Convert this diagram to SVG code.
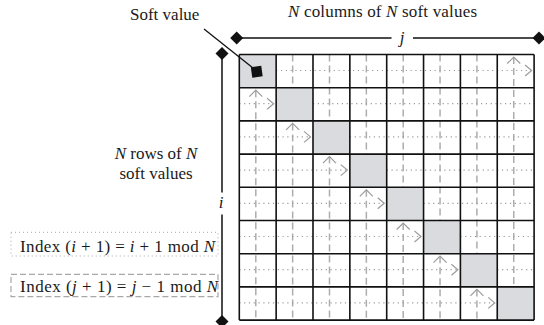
<svg xmlns="http://www.w3.org/2000/svg" width="544" height="325" viewBox="0 0 544 325">
<style>
text{font-family:"Liberation Serif","Times New Roman",serif;font-size:17px;fill:#1a1a1a}
.it{font-style:italic}
.grid{stroke:#111;stroke-width:1.6;fill:none}
.diag{fill:#d9dbde;stroke:none}
.dot{stroke:#9c9c9c;stroke-width:1.2;stroke-dasharray:1.2 3.6;fill:none}
.dash{stroke:#adadad;stroke-width:1.5;stroke-dasharray:7 4;fill:none}
.ah{stroke:#9c9c9c;stroke-width:1.2;fill:none}
.axis{stroke:#111;stroke-width:1.5;fill:none}
.dia{fill:#111}
</style>
<defs>
<path id="dm" d="M0,-6.5 L6.5,0 L0,6.5 L-6.5,0 Z"/>
</defs>
<g id="title"><text x="288" y="17" textLength="189" lengthAdjust="spacing"><tspan class="it">N</tspan> columns of <tspan class="it">N</tspan> soft values</text></g>
<g id="soft-value-label"><text x="130" y="20">Soft value</text></g>
<g id="rows-label"><text x="156" y="158.5" text-anchor="middle"><tspan class="it">N</tspan> rows of <tspan class="it">N</tspan></text><text x="156" y="179" text-anchor="middle">soft values</text></g>
<g id="diagonal">
<rect class="diag" x="239.3" y="54.5" width="36.85" height="33.2"/>
<rect class="diag" x="276.15" y="87.7" width="36.85" height="33.2"/>
<rect class="diag" x="313" y="120.9" width="36.85" height="33.2"/>
<rect class="diag" x="349.85" y="154.1" width="36.85" height="33.2"/>
<rect class="diag" x="386.7" y="187.3" width="36.85" height="33.2"/>
<rect class="diag" x="423.55" y="220.5" width="36.85" height="33.2"/>
<rect class="diag" x="460.4" y="253.7" width="36.85" height="33.2"/>
<rect class="diag" x="497.25" y="286.9" width="36.85" height="33.2"/>
</g>
<g id="connectors">
<!-- vertical dashed (index j) -->
<path class="dash" d="M255.8,90.2 V320.1"/>
<path class="dash" d="M292.65,54.5 V87.7 M292.65,123.4 V320.1"/>
<path class="dash" d="M329.5,54.5 V120.9 M329.5,156.6 V320.1"/>
<path class="dash" d="M366.35,54.5 V154.1 M366.35,189.8 V320.1"/>
<path class="dash" d="M403.2,54.5 V187.3 M403.2,223 V320.1"/>
<path class="dash" d="M440.05,54.5 V220.5 M440.05,256.2 V320.1"/>
<path class="dash" d="M476.9,54.5 V253.7 M476.9,289.4 V320.1"/>
<path class="dash" d="M513.75,57 V286.9"/>
<!-- horizontal dotted (index i) -->
<path class="dot" d="M276.15,70.5 H531.6"/>
<path class="dot" d="M239.3,103.7 H273.6 M313,103.7 H534.1"/>
<path class="dot" d="M239.3,136.9 H310.5 M349.85,136.9 H534.1"/>
<path class="dot" d="M239.3,170.1 H347.3 M386.7,170.1 H534.1"/>
<path class="dot" d="M239.3,203.3 H384.2 M423.55,203.3 H534.1"/>
<path class="dot" d="M239.3,236.5 H421 M460.4,236.5 H534.1"/>
<path class="dot" d="M239.3,269.7 H457.9 M497.25,269.7 H534.1"/>
<path class="dot" d="M239.3,302.9 H494.7"/>
<!-- arrowheads -->
<path class="ah" d="M249.3,96.7 L255.8,90.2 L262.3,96.7 M267.1,98.2 L273.6,103.7 L267.1,109.2"/>
<path class="ah" d="M286.15,129.9 L292.65,123.4 L299.15,129.9 M304,131.4 L310.5,136.9 L304,142.4"/>
<path class="ah" d="M323,163.1 L329.5,156.6 L336,163.1 M340.8,164.6 L347.3,170.1 L340.8,175.6"/>
<path class="ah" d="M359.85,196.3 L366.35,189.8 L372.85,196.3 M377.7,197.8 L384.2,203.3 L377.7,208.8"/>
<path class="ah" d="M396.7,229.5 L403.2,223 L409.7,229.5 M414.5,231 L421,236.5 L414.5,242"/>
<path class="ah" d="M433.55,262.7 L440.05,256.2 L446.55,262.7 M451.4,264.2 L457.9,269.7 L451.4,275.2"/>
<path class="ah" d="M470.4,295.9 L476.9,289.4 L483.4,295.9 M488.2,297.4 L494.7,302.9 L488.2,308.4"/>
<path class="ah" d="M507.25,63.5 L513.75,57 L520.25,63.5 M525.1,65 L531.6,70.5 L525.1,76"/>
<!-- soft value pointer -->
<path d="M204,29 L253,68" stroke="#111" stroke-width="1.3" fill="none"/>
</g>
<g id="grid">
<path class="grid" d="M239.3,54.5 V320.1 M276.15,54.5 V320.1 M313,54.5 V320.1 M349.85,54.5 V320.1 M386.7,54.5 V320.1 M423.55,54.5 V320.1 M460.4,54.5 V320.1 M497.25,54.5 V320.1 M534.1,54.5 V320.1"/>
<path class="grid" d="M239.3,54.5 H534.1 M239.3,87.7 H534.1 M239.3,120.9 H534.1 M239.3,154.1 H534.1 M239.3,187.3 H534.1 M239.3,220.5 H534.1 M239.3,253.7 H534.1 M239.3,286.9 H534.1 M239.3,320.1 H534.1"/>
</g>
<g id="soft-value"><rect x="251.5" y="66.5" width="10.5" height="10.5" fill="#111" transform="rotate(-8 256.7 71.7)"/></g>
<g id="axis-j">
<path class="axis" d="M236.7,38 H391.5 M413,38 H539"/>
<use href="#dm" class="dia" x="236.7" y="38"/>
<use href="#dm" class="dia" x="539" y="38"/>
<text class="it" x="402" y="43" text-anchor="middle">j</text>
</g>
<g id="axis-i">
<path class="axis" d="M222,53.5 V192.5 M222,214.5 V321.5"/>
<use href="#dm" class="dia" x="222" y="53.5"/>
<use href="#dm" class="dia" x="222" y="321.5"/>
<text class="it" x="221" y="208" text-anchor="middle">i</text>
</g>
<g id="legend-i">
<rect x="11" y="232.3" width="207" height="23.7" fill="none" stroke="#a8a8a8" stroke-width="1" stroke-dasharray="1 3"/>
<text x="20" y="251.5" textLength="195" lengthAdjust="spacing">Index (<tspan class="it">i</tspan> + 1) = <tspan class="it">i</tspan> + 1 mod <tspan class="it">N</tspan></text>
</g>
<g id="legend-j">
<rect x="11" y="274.3" width="207" height="22.4" fill="none" stroke="#a8a8a8" stroke-width="1.2" stroke-dasharray="6 3"/>
<text x="20" y="291.7" textLength="198" lengthAdjust="spacing">Index (<tspan class="it">j</tspan> + 1) = <tspan class="it">j</tspan> − 1 mod <tspan class="it">N</tspan></text>
</g>
</svg>
